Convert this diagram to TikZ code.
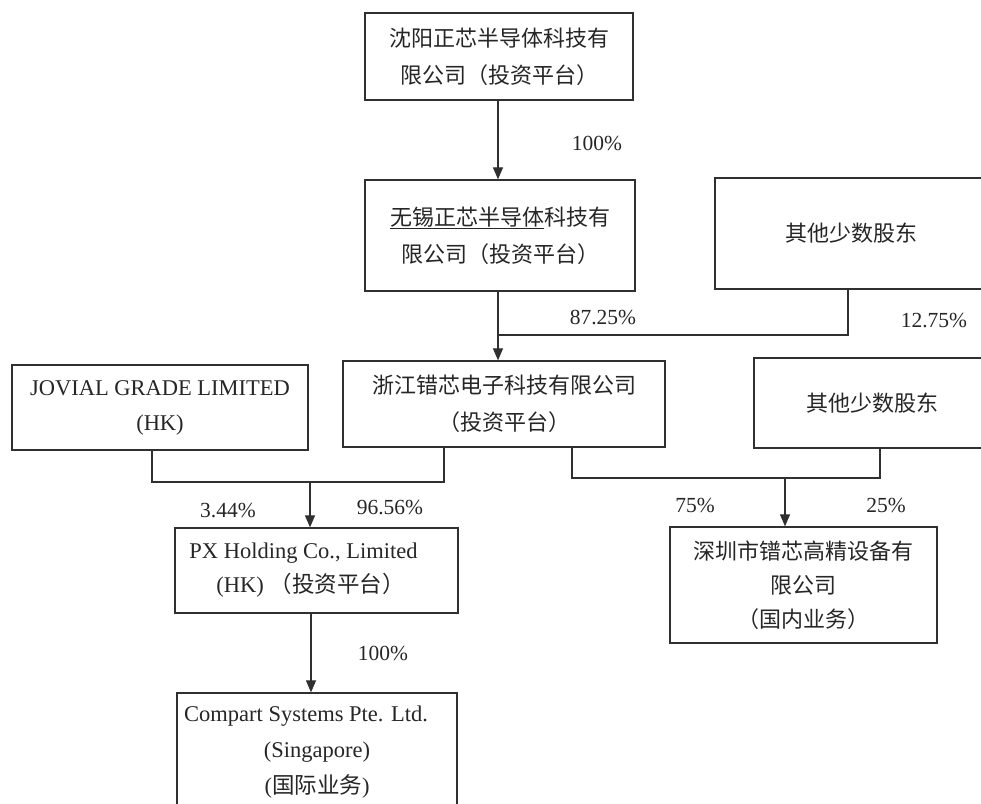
\documentclass[tikz,border=0pt]{standalone}
\usepackage{fontspec}
\setmainfont{Liberation Serif}
\newfontfamily\cjk{Noto Sans CJK SC}
\usetikzlibrary{arrows.meta}
\definecolor{ink}{HTML}{262626}
\definecolor{wire}{HTML}{303030}
\begin{document}
\begin{tikzpicture}[x=1pt,y=-1pt,
  box/.style={draw=wire, line width=1.3pt, text=ink, align=center, inner sep=0pt,
    font=\fontsize{22}{37}\selectfont},
  lbl/.style={text=ink, inner sep=0pt, font=\fontsize{21.5}{25}\selectfont},
  line/.style={draw=wire, line width=1.2pt},
  arr/.style={line, -{Triangle[width=10pt,length=12pt]}}]
\useasboundingbox[fill=white] (0,0) rectangle (981,803);

% boxes
\node[box, minimum width=268pt, minimum height=87pt] (b1) at (499,56.5)
  {\cjk 沈阳正芯半导体科技有\\\cjk 限公司（投资平台）};
\node[box, minimum width=270pt, minimum height=111pt] (b2) at (500,235.5)
  {\underline{\cjk 无锡正芯半导体}{\cjk 科技有}\\\cjk 限公司（投资平台）};
\node[box, minimum width=272pt, minimum height=111pt] (o1) at (851,233.5)
  {\cjk 其他少数股东};
\node[box, minimum width=322pt, minimum height=86pt] (zj) at (504,404)
  {\cjk 浙江错芯电子科技有限公司\\\cjk （投资平台）};
\node[box, minimum width=236pt, minimum height=90pt] (o2) at (872,403)
  {\cjk 其他少数股东};
\node[box, minimum width=296pt, minimum height=85pt, font=\fontsize{22.5}{35}\selectfont] (jv) at (160,407.5)
  {JOVIAL GRADE LIMITED\\(HK)};
\node[box, minimum width=283pt, minimum height=85pt, font=\fontsize{22.5}{34}\selectfont] (px) at (316.5,570.5)
  {PX Holding Co., Limited\hspace*{26pt}\\(HK) {\cjk （投资平台）}\hspace*{12pt}};
\node[box, minimum width=280pt, minimum height=118pt, font=\fontsize{22.5}{36}\selectfont] (cp) at (317,752)
  {Compart Systems Pte. Ltd.\hspace*{22pt}\\(Singapore)\\({\cjk 国际业务})};
\node[box, minimum width=267pt, minimum height=116pt, font=\fontsize{22}{34}\selectfont] (sz) at (803.5,585)
  {\cjk 深圳市镨芯高精设备有\\\cjk 限公司\\\cjk （国内业务）};

% helper coordinates
\coordinate (m1) at (498,335);
\coordinate (xj) at (152,482);
\coordinate (xz) at (444,482);
\coordinate (m2) at (310,482);
\coordinate (xz2) at (572,478);
\coordinate (xo2) at (880,478);
\coordinate (m3) at (785,478);
\coordinate (xa) at (498,0);
\coordinate (xp) at (311,0);
\coordinate (xo1) at (848,0);

% connectors
\draw[arr] (b1.south -| xa) -- (b2.north -| xa);
\draw[line] (o1.south -| xo1) |- (m1);
\draw[arr] (b2.south -| m1) -- (zj.north -| m1);
\draw[line] (jv.south -| xj) -- (xj) -- (xz) -- (zj.south -| xz);
\draw[arr] (m2) -- (px.north -| m2);
\draw[line] (zj.south -| xz2) -- (xz2) -- (xo2) -- (o2.south -| xo2);
\draw[arr] (m3) -- (sz.north -| m3);
\draw[arr] (px.south -| xp) -- (cp.north -| xp);

% labels
\node[lbl] (l100a) at (597,143) {100\%};
\node[lbl] (l8725) at (603,317) {87.25\%};
\node[lbl] (l1275) at (934,320) {12.75\%};
\node[lbl] (l344) at (228,510) {3.44\%};
\node[lbl] (l9656) at (390,507) {96.56\%};
\node[lbl] (l75) at (695,505) {75\%};
\node[lbl] (l25) at (886,505) {25\%};
\node[lbl] (l100b) at (383,653) {100\%};
\end{tikzpicture}
\end{document}
